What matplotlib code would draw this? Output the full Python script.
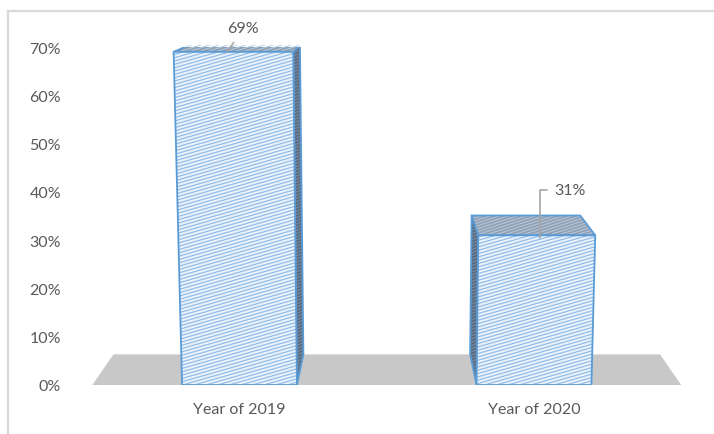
import matplotlib
matplotlib.use('Agg')
import matplotlib.pyplot as plt
import numpy as np
from matplotlib.patches import Polygon
from matplotlib.collections import LineCollection
from matplotlib.transforms import IdentityTransform
from matplotlib.lines import Line2D

categories = ['Year of 2019', 'Year of 2020']
shares = [69, 31]
yticks = [0, 10, 20, 30, 40, 50, 60, 70]

plt.rcParams['font.family'] = ['Lato', 'DejaVu Sans']
TXT = '#595959'
EDGE = '#5b9bd5'
FS = 11.5

# simple perspective: uprights lean away from VX, depth runs toward VP
VX, K = 0.5, 0.0006
VP, T = (0.5, 88.0), 0.072
HALF = 0.195


def proj(x, y, back=False):
    x = x + (x - VX) * K * y
    if back:
        x = x + (VP[0] - x) * T
        y = y + (VP[1] - y) * T
    return (x, y)


fig = plt.figure(figsize=(7.14, 4.35), dpi=100)
ax = fig.add_axes([75 / 714, 49 / 435, 625 / 714, 338 / 435])
ax.set_xlim(-0.5586, 1.5637)
ax.set_ylim(0, 70)
for s in ax.spines.values():
    s.set_visible(False)


def texture(patch, poly, color, angle, spacing, lw):
    pts = ax.transData.transform(poly)
    a = np.radians(angle)
    d = np.array([np.cos(a), np.sin(a)])
    n = np.array([-np.sin(a), np.cos(a)])
    pn = pts @ n
    pd = pts @ d
    segs = []
    for s in np.arange(np.floor(pn.min() / spacing) * spacing, pn.max() + spacing, spacing):
        segs.append([n * s + d * (pd.min() - 5), n * s + d * (pd.max() + 5)])
    lc = LineCollection(segs, colors=color, linewidths=lw,
                        transform=IdentityTransform(), zorder=patch.get_zorder() + 0.05)
    lc.set_clip_path(patch)
    ax.add_collection(lc, autolim=False)


def face(poly, fill, line_color, angle, spacing, lw, z, edge=EDGE):
    p = Polygon(poly, closed=True, facecolor=fill, edgecolor='none', zorder=z)
    ax.add_patch(p)
    texture(p, poly, line_color, angle, spacing, lw)
    ax.add_patch(Polygon(poly, closed=True, fill=False, edgecolor=edge,
                         linewidth=1.3, zorder=z + 0.1, joinstyle='round'))


# floor
x0, x1 = -0.5, len(categories) - 0.5
floor = [proj(x0, 0), proj(x1, 0), proj(x1, 0, True), proj(x0, 0, True)]
ax.add_patch(Polygon(floor, closed=True, facecolor='#c8c8c8', edgecolor='none',
                     zorder=1, clip_on=False))

for i, v in enumerate(shares):
    l, r = i - HALF, i + HALF
    front = [proj(l, 0), proj(r, 0), proj(r, v), proj(l, v)]
    top = [proj(l, v), proj(r, v), proj(r, v, True), proj(l, v, True)]
    sx = r if i < VX else l
    side = [proj(sx, 0), proj(sx, v), proj(sx, v, True), proj(sx, 0, True)]
    face(side, '#5e6b7a', '#6f8fb5', 20, 3.0, 0.7, 2)
    face(top, '#979ea8', '#a9c8ea', 18, 2.8, 0.8, 3)
    face(front, '#eaf2fb', '#8fbbe8', 16, 3.2, 0.85, 4)

# value labels with leader lines
a0 = proj(0 - 0.02, shares[0])
ax.annotate(f'{shares[0]}%', xy=a0, xytext=(11.5, 17), textcoords='offset points',
            ha='center', va='center', fontsize=FS, color=TXT, zorder=6,
            arrowprops=dict(arrowstyle='-', color='#a6a6a6', lw=1.2,
                            shrinkA=4, shrinkB=0))
a1 = proj(1 + 0.01, shares[1])
a1 = (a1[0], a1[1] - 0.5)
ax.annotate(f'{shares[1]}%', xy=a1, xytext=(10.5, 34.5), textcoords='offset points',
            ha='left', va='center', fontsize=FS, color=TXT, zorder=6,
            arrowprops=dict(arrowstyle='-', color='#a6a6a6', lw=1.2,
                            shrinkA=3, shrinkB=0,
                            connectionstyle='angle,angleA=0,angleB=90,rad=0'))

ax.set_yticks(yticks)
ax.set_yticklabels([f'{t}%' for t in yticks])
ax.set_xticks(range(len(categories)))
ax.set_xticklabels(categories)
ax.tick_params(axis='y', length=0, pad=10, labelsize=FS, labelcolor=TXT)
ax.tick_params(axis='x', length=0, pad=12, labelsize=FS, labelcolor=TXT)

# chart frame edges
fig.add_artist(Line2D([8 / 714, 8 / 714], [0, 1 - 12 / 435], color='#d9d9d9', lw=1.6))
fig.add_artist(Line2D([8 / 714, 1], [1 - 12 / 435, 1 - 12 / 435], color='#d9d9d9', lw=1.6))

fig.savefig('out.png', dpi=100)
